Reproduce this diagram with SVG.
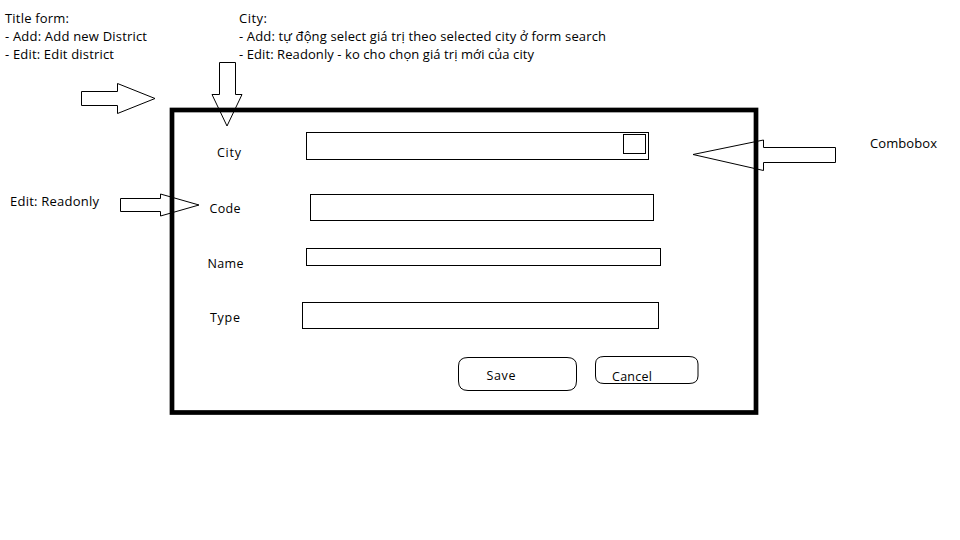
<svg xmlns="http://www.w3.org/2000/svg" width="960" height="540" viewBox="0 0 960 540">
<style>
.t{font-family:"Open Sans","Liberation Sans",Arial,sans-serif;font-size:13px;fill:#000}
.l{font-family:"Open Sans","Liberation Sans",Arial,sans-serif;font-size:12.5px;fill:#000}
.f{fill:#fff;stroke:#000;stroke-width:1}
.a{fill:#fff;stroke:#000;stroke-width:1;stroke-linejoin:miter}
</style>
<rect width="960" height="540" fill="#fff"/>
<g id="notes">
<text class="t" x="5" y="23" textLength="64">Title form:</text>
<text class="t" x="5" y="41" textLength="142">- Add: Add new District</text>
<text class="t" x="5" y="59" textLength="109">- Edit: Edit district</text>
<text class="t" x="239" y="23" textLength="28">City:</text>
<text class="t" x="239" y="41" textLength="367">- Add: tự động select giá trị theo selected city ở form search</text>
<text class="t" x="239" y="59" textLength="295">- Edit: Readonly - ko cho chọn giá trị mới của city</text>
<text class="t" x="870" y="148" textLength="67">Combobox</text>
<text class="t" x="10" y="206" textLength="89">Edit: Readonly</text>
</g>
<g id="connectors">
<polygon class="a" points="81.5,91.5 117.5,91.5 117.5,83.5 155,98.5 117.5,113.5 117.5,105.5 81.5,105.5"/>
<polygon class="a" points="219.5,62.5 235.5,62.5 235.5,94.5 242,94.5 227,126 212,94.5 219.5,94.5"/>
<polygon class="a" points="120.5,198.5 160.5,198.5 160.5,194 199,205 160.5,216 160.5,211.5 120.5,211.5"/>
<polygon class="a" points="835.5,147.5 763.5,147.5 763.5,140 693,154.5 763.5,170.5 763.5,162.5 835.5,162.5"/>
</g>
<g id="form">
<rect x="172" y="110" width="584" height="302.5" fill="none" stroke="#000" stroke-width="4.7"/>
</g>
<g id="city">
<text class="l" x="217" y="157" textLength="24">City</text>
<rect class="f" x="306.5" y="132.5" width="342" height="27"/>
<rect class="f" x="623.5" y="134.5" width="22" height="19"/>
</g>
<g id="code">
<text class="l" x="209.5" y="213" textLength="31">Code</text>
<rect class="f" x="310.5" y="194.5" width="343" height="26"/>
</g>
<g id="name">
<text class="l" x="207.5" y="268" textLength="36">Name</text>
<rect class="f" x="306.5" y="248.5" width="354" height="17"/>
</g>
<g id="type">
<text class="l" x="210" y="322" textLength="30">Type</text>
<rect class="f" x="302.5" y="302.5" width="356" height="26"/>
</g>
<g id="save">
<path class="f" d="M468,357.5 L567,357.5 Q576.5,357.5 576.5,366 L576.5,381 Q576.5,390.5 567,390.5 L468,390.5 Q458.5,390.5 458.5,381 L458.5,366 Q458.5,357.5 468,357.5 Z"/>
<text class="l" x="486.5" y="380" textLength="29">Save</text>
</g>
<g id="cancel">
<path class="f" d="M604,356.5 L689,356.5 Q698,356.5 698,364 L698,376 Q698,383.5 689,383.5 L604,383.5 Q595.5,383.5 595.5,376 L595.5,364 Q595.5,356.5 604,356.5 Z"/>
<text class="l" x="612" y="381" textLength="40">Cancel</text>
</g>
</svg>
